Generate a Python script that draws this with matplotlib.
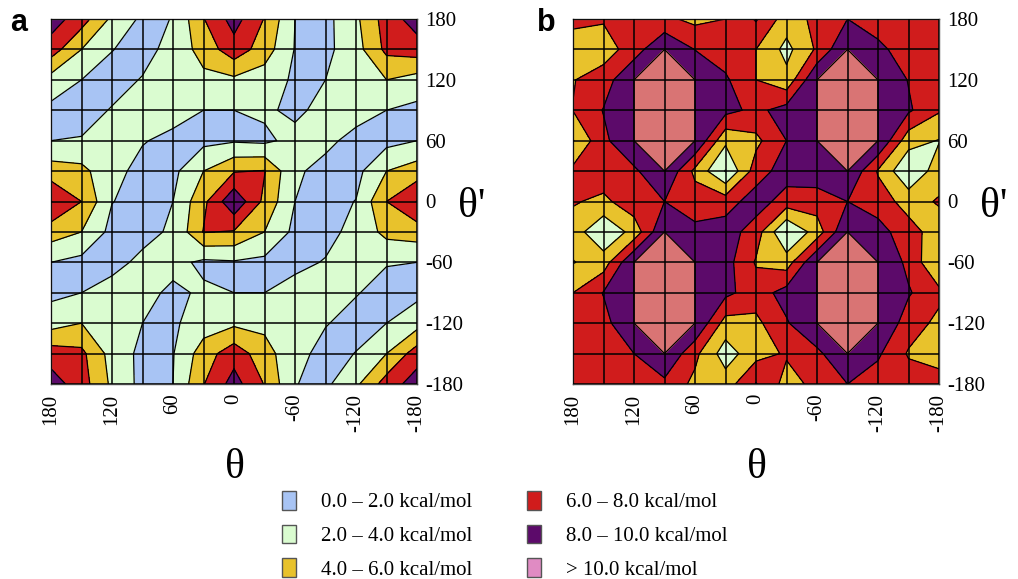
import matplotlib
matplotlib.use("Agg")
import matplotlib.pyplot as plt
from matplotlib.patches import Patch

plt.rcParams['font.family'] = ['Liberation Serif', 'DejaVu Serif']

# grid of the scan, 30 degree steps
theta = [180, 150, 120, 90, 60, 30, 0, -30, -60, -90, -120, -150, -180]
theta_prime = [180, 150, 120, 90, 60, 30, 0, -30, -60, -90, -120, -150, -180]

# energies in kcal/mol, rows = theta' (180 at top), columns = theta (180 at left)
energy_a = [
    [9.0, 6.9, 3.6, 1.6, 2.05, 5.9, 8.8, 5.9, 2.0, 1.4, 3.6, 6.9, 9.0],
    [7.0, 4.0, 2.05, 1.4, 2.6, 4.8, 7.2, 5.0, 1.9, 1.5, 3.2, 6.5, 7.0],
    [3.2, 2.0, 1.4, 2.1, 3.0, 3.5, 3.6, 3.0, 1.7, 2.0, 2.8, 4.0, 3.2],
    [1.5, 1.4, 2.1, 3.0, 2.6, 2.0, 2.0, 2.3, 1.6, 2.6, 2.5, 2.0, 1.5],
    [2.0, 2.1, 2.8, 2.1, 1.6, 1.5, 1.8, 1.6, 2.6, 2.3, 1.6, 1.4, 2.0],
    [5.0, 4.6, 2.5, 1.5, 1.5, 4.0, 5.85, 6.1, 2.2, 1.6, 1.4, 4.0, 5.0],
    [8.05, 6.0, 2.05, 1.4, 2.0, 5.5, 9.6, 5.5, 2.0, 1.4, 2.05, 6.0, 8.05],
    [5.0, 4.0, 1.4, 1.6, 2.2, 6.1, 5.85, 4.0, 1.5, 1.5, 2.5, 4.6, 5.0],
    [2.0, 1.4, 1.6, 2.3, 2.6, 1.6, 1.8, 1.5, 1.6, 2.1, 2.8, 2.1, 2.0],
    [1.5, 2.0, 2.5, 2.6, 1.6, 2.3, 2.0, 2.0, 2.6, 3.0, 2.1, 1.4, 1.5],
    [3.2, 4.0, 2.8, 2.0, 1.7, 3.0, 3.6, 3.5, 3.0, 2.1, 1.4, 2.0, 3.2],
    [7.0, 6.5, 3.2, 1.5, 1.9, 5.0, 7.2, 4.8, 2.6, 1.4, 2.05, 4.0, 7.0],
    [9.0, 6.9, 3.6, 1.4, 2.0, 5.9, 8.8, 5.9, 2.05, 1.6, 3.6, 6.9, 9.0],
]

energy_b = [
    [6.5, 6.2, 7.0, 6.4, 5.5, 6.0, 8.2, 5.0, 6.5, 8.0, 7.0, 7.0, 6.5],
    [5.0, 5.0, 7.0, 10.0, 7.95, 7.0, 6.0, 3.4, 6.3, 10.0, 8.5, 7.0, 6.1],
    [5.9, 7.0, 10.0, 12.0, 10.0, 8.3, 6.0, 4.6, 10.0, 12.0, 10.0, 7.9, 7.0],
    [6.05, 8.1, 10.0, 12.0, 10.0, 8.6, 7.5, 8.8, 10.0, 12.0, 10.0, 8.3, 6.2],
    [3.9, 7.5, 10.0, 12.0, 10.0, 4.4, 5.5, 8.0, 10.0, 12.0, 10.0, 4.8, 3.9],
    [6.5, 7.3, 7.6, 10.0, 5.5, 1.9, 7.0, 9.0, 9.2, 10.0, 5.8, 2.2, 5.05],
    [6.2, 5.5, 7.3, 8.0, 7.0, 7.05, 9.0, 7.05, 7.0, 8.0, 7.0, 5.2, 6.2],
    [5.0, 2.3, 4.7, 10.0, 8.5, 9.0, 7.0, 1.9, 4.9, 10.0, 8.8, 6.8, 5.0],
    [3.9, 5.0, 10.0, 12.0, 10.0, 8.8, 5.8, 5.0, 10.0, 12.0, 10.0, 7.5, 3.95],
    [6.0, 8.1, 10.0, 12.0, 10.0, 8.5, 7.0, 8.8, 10.0, 12.0, 10.0, 8.2, 6.5],
    [6.5, 7.3, 10.0, 12.0, 10.0, 5.2, 5.5, 7.8, 10.0, 12.0, 10.0, 7.0, 5.5],
    [6.0, 7.0, 8.0, 10.0, 6.5, 3.0, 5.3, 6.2, 7.5, 10.0, 8.3, 5.8, 5.5],
    [6.5, 6.8, 7.0, 7.5, 5.5, 5.0, 8.1, 5.3, 6.5, 8.0, 7.0, 7.0, 6.5],
]

levels = [0, 2, 4, 6, 8, 10, 20]
fill_colors = ['#a8c4f4', '#dafcd0', '#e8c22c', '#d01c1c', '#5c0a6a', '#d97474']
legend_colors = ['#a8c4f4', '#dafcd0', '#e8c22c', '#d01c1c', '#5c0a6a', '#e08bc3']
legend_labels = ['0.0 \u2013 2.0 kcal/mol', '2.0 \u2013 4.0 kcal/mol', '4.0 \u2013 6.0 kcal/mol',
                 '6.0 \u2013 8.0 kcal/mol', '8.0 \u2013 10.0 kcal/mol', '> 10.0 kcal/mol']
tick_vals = [180, 120, 60, 0, -60, -120, -180]


def draw_panel(ax, z):
    ax.contourf(theta, theta_prime, z, levels=levels, colors=fill_colors)
    top = max(max(row) for row in z)
    line_levels = [lv for lv in levels[1:-1] if lv < top]
    ax.contour(theta, theta_prime, z, levels=line_levels, colors='black', linewidths=0.9)
    ax.set_xlim(180, -180)
    ax.set_ylim(-180, 180)
    ax.set_xticks(tick_vals)
    ax.set_xticklabels([str(v) for v in tick_vals], rotation=90)
    ax.set_yticks(tick_vals)
    ax.set_yticklabels([str(v) for v in tick_vals])
    ax.set_xticks(theta, minor=True)
    ax.set_yticks(theta_prime, minor=True)
    ax.yaxis.tick_right()
    ax.tick_params(which='both', length=0, labelsize=15)
    ax.tick_params(axis='x', pad=7)
    ax.tick_params(axis='y', pad=6)
    ax.grid(which='both', color='black', linewidth=1.1)
    ax.set_axisbelow(False)
    for sp in ax.spines.values():
        sp.set_color('#444444')
        sp.set_linewidth(1.0)


fig = plt.figure(figsize=(10.18, 5.79), dpi=100)
W, H = 1018.0, 579.0

ax_a = fig.add_axes([51 / W, 1 - 384 / H, 366 / W, 365 / H])
ax_b = fig.add_axes([573 / W, 1 - 384 / H, 366 / W, 365 / H])
draw_panel(ax_a, energy_a)
draw_panel(ax_b, energy_b)

fig.text(10 / W, 1 - 31 / H, 'a', fontsize=22, fontweight='bold', family='Liberation Sans')
fig.text(537 / W, 1 - 31 / H, 'b', fontsize=22, fontweight='bold', family='Liberation Sans')

for x0 in [235, 757]:
    fig.text(x0 / W, 1 - 468 / H, '\u03b8', fontsize=30, ha='center', va='center')
for x0 in [458, 980]:
    fig.text(x0 / W, 1 - 207 / H, "\u03b8'", fontsize=30, ha='left', va='center')

handles = [Patch(facecolor=c, edgecolor='#555555', linewidth=1.0) for c in legend_colors]
fig.legend(handles, legend_labels, ncol=2, loc='upper left', bbox_to_anchor=(282 / W, 1 - 491 / H),
           frameon=False, fontsize=15, handlelength=0.65, handleheight=1.0, handletextpad=1.2,
           columnspacing=2.65, labelspacing=0.58, borderpad=0, borderaxespad=0)

fig.savefig('out.png', dpi=100)
